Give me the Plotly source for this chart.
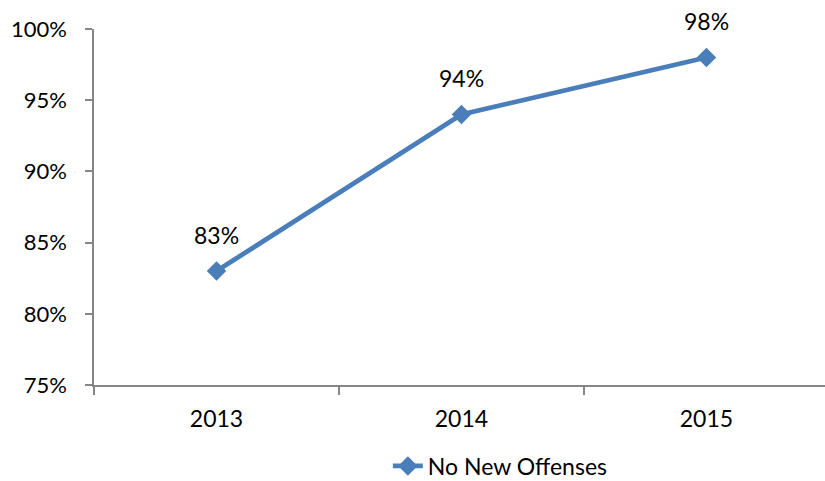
import plotly.graph_objects as go

# Share of participants with no new offenses, by year
years = ["2013", "2014", "2015"]
no_new_offenses = [83, 94, 98]
series_name = "No New Offenses"
y_ticks = [75, 80, 85, 90, 95, 100]
y_tick_labels = [f"{v}%" for v in y_ticks]

line_color = "#4A7EBB"
axis_color = "#868686"
font_family = "Lato"

fig = go.Figure()
fig.add_trace(go.Scatter(
    x=years,
    y=no_new_offenses,
    mode="lines+markers",
    name=series_name,
    line=dict(color=line_color, width=4.8),
    marker=dict(symbol="diamond", size=15, color=line_color),
))

# Value labels above each point
labels = [
    dict(
        xref="x", yref="y", x=i, y=val, text=f"{val}%",
        showarrow=False, yshift=36,
        font=dict(size=23, color="#000000", family=font_family),
    )
    for i, val in enumerate(no_new_offenses)
]

fig.update_layout(
    width=825, height=481,
    margin=dict(l=94, r=0, t=29, b=96, autoexpand=False),
    paper_bgcolor="white", plot_bgcolor="white",
    font=dict(family=font_family, size=23, color="#000000"),
    showlegend=True,
    annotations=labels,
    legend=dict(
        orientation="h", x=0.402, xanchor="left",
        yref="container", y=1 - 466 / 481, yanchor="middle",
        font=dict(size=23), bgcolor="rgba(0,0,0,0)",
    ),
    xaxis=dict(
        type="category",
        range=[-0.5, 2.484],
        showgrid=False, zeroline=False,
        showline=True, linecolor=axis_color, linewidth=1.5,
        ticks="outside", tickson="boundaries", ticklen=8,
        tickcolor=axis_color, tickwidth=1.5,
        ticklabelstandoff=13,
        tickfont=dict(size=23),
    ),
    yaxis=dict(
        range=[75, 100],
        tickvals=y_ticks, ticktext=y_tick_labels,
        showgrid=False, zeroline=False,
        showline=True, linecolor=axis_color, linewidth=1.5,
        ticks="outside", ticklen=7,
        tickcolor=axis_color, tickwidth=1.5,
        ticklabelstandoff=14,
        tickfont=dict(size=22),
    ),
)

fig.write_html("out.html")
